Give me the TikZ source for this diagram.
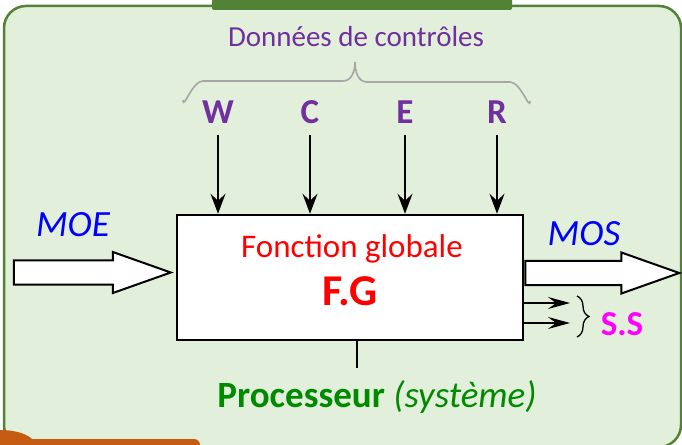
\documentclass[tikz,border=0pt]{standalone}
\usepackage{fontspec}
\setmainfont{Carlito}
\usetikzlibrary{arrows.meta,positioning,calc,shapes.arrows,decorations.pathreplacing}
\definecolor{fondvert}{HTML}{E2EFDA}
\definecolor{bordvert}{HTML}{548235}
\definecolor{ongletvert}{HTML}{538135}
\definecolor{orangeC}{HTML}{C55A11}
\definecolor{violetC}{HTML}{7030A0}
\definecolor{vertP}{HTML}{008A00}
\definecolor{grisA}{HTML}{A6A6A6}
\definecolor{roseS}{HTML}{FF00FF}
\newcommand{\fsize}[1]{\fontsize{#1}{#1}\selectfont}
\tikzset{
  boite/.style  ={draw,line width=2.5pt,fill=white,minimum width=346pt,
                  minimum height=125pt},
  lettre/.style ={font=\fsize{35}\bfseries,text=violetC,anchor=base},
  entree/.style ={font=\fsize{37}\itshape,text=blue},
  grosse/.style ={single arrow,draw,line width=2pt,fill=white,inner sep=9.5pt,
                  minimum width=41pt,single arrow tip angle=39},
  ctrl/.style   ={-{Stealth[length=20pt,width=15pt,inset=7pt]},line width=1.2pt},
  sortie/.style ={-{Stealth[length=22pt,width=12pt,inset=8pt]},line width=1.2pt},
}
\begin{document}
\begin{tikzpicture}[x=1pt,y=-1pt]
\useasboundingbox (0,0) rectangle (682,444);
% fond
\draw[line width=2.5pt,draw=bordvert,fill=fondvert,rounded corners=22pt]
  (4,6) rectangle (681,447);
\fill[ongletvert,rounded corners=2pt] (212,-5) rectangle (512,10);
\fill[orangeC] (0,445) ellipse [x radius=35pt,y radius=15pt];
\fill[orangeC,rounded corners=6pt] (-10,439) rectangle (200,470);

% titre et accolade
\node[font=\fsize{29},text=violetC,anchor=base] (DC) at (356,47) {Données de contrôles};
\draw[grisA,line width=1.6pt] (183,100) to[out=-90,in=180] (203,81) -- (343,81)
  to[out=0,in=-90] (355,62) to[out=-90,in=180] (367,82) -- (510,82)
  to[out=0,in=-90] (530,101);

% fonction globale
\node[boite] (FG) at (350,277.5) {};
\node[font=\fsize{33},text=red,anchor=base] (FGt) at (352,257) {Fonction globale};
\node[font=\fsize{44}\bfseries,text=red,anchor=base] (FGb) at (350,305) {F.G};

% controles
\foreach \l/\x in {W/218,C/310,E/405,R/497}{
  \node[lettre] (\l) at (\x,123) {\l};
  \draw[ctrl,shorten <=8pt] (\l.south) -- (\l.south |- FG.north);
}

% matiere d'oeuvre
\node[grosse,minimum height=157pt,anchor=tip] (MOEa) at ($(FG.west)+(-2,-5)$) {};
\node[entree] (MOE) at (73,225) {MOE};
\node[grosse,minimum height=154pt,anchor=tail] (MOSa) at ($(FG.east)+(0,-4.5)$) {};
\node[entree] (MOS) at (584,234) {MOS};

% sorties secondaires
\coordinate (ss1) at (570,303);
\coordinate (ss2) at (570,323);
\draw[sortie] (FG.east |- ss1) -- (ss1);
\draw[sortie] (FG.east |- ss2) -- (ss2);
\node[font=\fsize{35}\bfseries,text=roseS] (SS) at (622,324) {S.S};
\coordinate (acc1) at (577,296);
\coordinate (acc2) at (577,337);
\draw[decorate,decoration={brace,amplitude=12pt},line width=1.3pt] (acc1) -- (acc2);

% processeur
\node[font=\fsize{37},text=vertP,anchor=base] (P) at (377,407)
  {\textbf{Processeur} \textit{(système)}};
\coordinate (pp) at (357,368);
\draw[line width=1.6pt] (FG.south -| pp) -- (pp);
\end{tikzpicture}
\end{document}
